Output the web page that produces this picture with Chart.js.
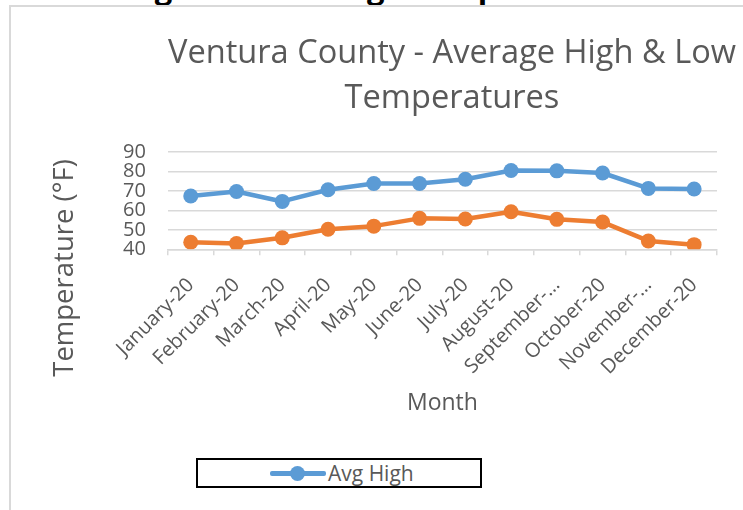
<!DOCTYPE html>
<html>
<head>
<meta charset="utf-8">
<script src="https://cdn.jsdelivr.net/npm/chart.js@4.4.1/dist/chart.umd.min.js"></script>
<style>
  html, body { margin: 0; padding: 0; background: #fff; }
  #wrap { position: relative; width: 743px; height: 510px; overflow: hidden; }
  #fig { position: absolute; left: 0; top: -28px; width: 743px; text-align: center;
         font: bold 31px "Open Sans", sans-serif; line-height: 31px; color: #000; white-space: nowrap; }
  #frame { position: absolute; left: 9px; top: 5px; width: 800px; height: 600px;
           border-left: 2px solid #d9d9d9; border-top: 2px solid #d9d9d9; background: #fff; }
  #c { position: absolute; left: 0; top: 0; }
  #legend { position: absolute; left: 196px; top: 458px; width: 282px; height: 26px;
            border: 2px solid #000; background: #fff; }
  #legend .ln { position: absolute; left: 72px; top: 11px; width: 56px; height: 5px;
                background: #5B9BD5; border-radius: 2px; }
  #legend .dot { position: absolute; left: 92px; top: 6px; width: 15px; height: 15px;
                 border-radius: 50%; background: #5B9BD5; }
  #legend .tx { position: absolute; left: 130px; top: -2px; font: 21px "Open Sans", sans-serif;
                color: #595959; line-height: 30px; white-space: nowrap; }
</style>
</head>
<body>
<div id="wrap">
  <div id="fig">Figure 3 - Average Temperature</div>
  <div id="frame"></div>
  <canvas id="c" width="743" height="510"></canvas>
  <div id="legend"><div class="ln"></div><div class="dot"></div><div class="tx">Avg High</div></div>
</div>
<script>
const months = ['January-20','February-20','March-20','April-20','May-20','June-20',
                'July-20','August-20','September-20','October-20','November-20','December-20'];
const tickLabels = ['January-20','February-20','March-20','April-20','May-20','June-20',
                    'July-20','August-20','September-…','October-20','November-…','December-20'];
const avgHigh = [67.4, 69.7, 64.6, 70.6, 73.8, 73.8, 76.0, 80.5, 80.3, 79.2, 71.3, 71.0];
const avgLow  = [43.6, 43.0, 45.9, 50.3, 51.9, 55.9, 55.6, 59.3, 55.4, 54.0, 44.3, 42.4];
const yTicks  = [40, 50, 60, 70, 80, 90];
const seriesNames = ['Avg High', 'Avg Low'];
const chartTitle = ['Ventura County - Average High & Low', 'Temperatures'];
const xAxisTitle = 'Month';
const yAxisTitle = 'Temperature (°F)';

const FONT = 'Open Sans';
const GRID = '#d9d9d9';
const TXT = '#595959';

function ds(label, data, color) {
  return {
    label, data,
    borderColor: color, backgroundColor: color,
    pointBackgroundColor: color, pointBorderColor: color,
    borderWidth: 4.5, pointRadius: 7.5, pointBorderWidth: 0,
    borderJoinStyle: 'round', borderCapStyle: 'round', tension: 0
  };
}

// Excel-like placement: title centred a little right of the plot, y-axis title centred lower
const layoutTweaks = {
  id: 'layoutTweaks',
  afterLayout(chart) {
    const t = chart.titleBlock;
    if (t) { t.left = 452 - 300; t.right = 452 + 300; t.width = 600; }
  },
  afterDraw(chart) {
    const ctx = chart.ctx;
    ctx.save();
    ctx.translate(65, 268);
    ctx.rotate(-Math.PI / 2);
    ctx.font = '27.5px "' + FONT + '"';
    ctx.fillStyle = TXT;
    ctx.textAlign = 'center';
    ctx.textBaseline = 'middle';
    ctx.fillText(yAxisTitle, 0, 0);
    ctx.restore();
  }
};

new Chart(document.getElementById('c'), {
  type: 'line',
  data: {
    labels: months,
    datasets: [ds(seriesNames[0], avgHigh, '#5B9BD5'), ds(seriesNames[1], avgLow, '#ED7D31')]
  },
  plugins: [layoutTweaks],
  options: {
    responsive: false, animation: false, devicePixelRatio: 1,
    layout: { padding: { left: 101, right: 26, top: 0, bottom: 89 } },
    plugins: {
      legend: { display: false },
      tooltip: { enabled: false },
      title: {
        display: true, fullSize: false, text: chartTitle, color: TXT,
        font: { family: FONT, size: 32.6, weight: 'normal', lineHeight: 1.38 },
        padding: { top: 31.5, bottom: 30.5 }
      }
    },
    scales: {
      x: {
        offset: true,
        afterFit: (s) => { s.paddingLeft = 0; },
        grid: { offset: true, drawOnChartArea: false, drawTicks: true, tickLength: 6, color: GRID, lineWidth: 1.5 },
        border: { display: true, color: GRID, width: 1.5 },
        ticks: {
          autoSkip: false, minRotation: 45, maxRotation: 45, color: TXT, padding: 18,
          font: { family: FONT, size: 20 },
          callback: (v, i) => tickLabels[i]
        },
        title: { display: true, text: xAxisTitle, color: TXT, font: { family: FONT, size: 23 }, padding: { top: -8, bottom: 4 } }
      },
      y: {
        min: yTicks[0], max: yTicks[yTicks.length - 1],
        afterBuildTicks: (s) => { s.ticks = yTicks.map(v => ({ value: v })); },
        ticks: { autoSkip: false, color: TXT, padding: 22, font: { family: FONT, size: 20, lineHeight: 1 } },
        grid: { color: GRID, lineWidth: 1.5, drawTicks: false },
        border: { display: false },
        title: { display: false }
      }
    }
  }
});
</script>
</body>
</html>
